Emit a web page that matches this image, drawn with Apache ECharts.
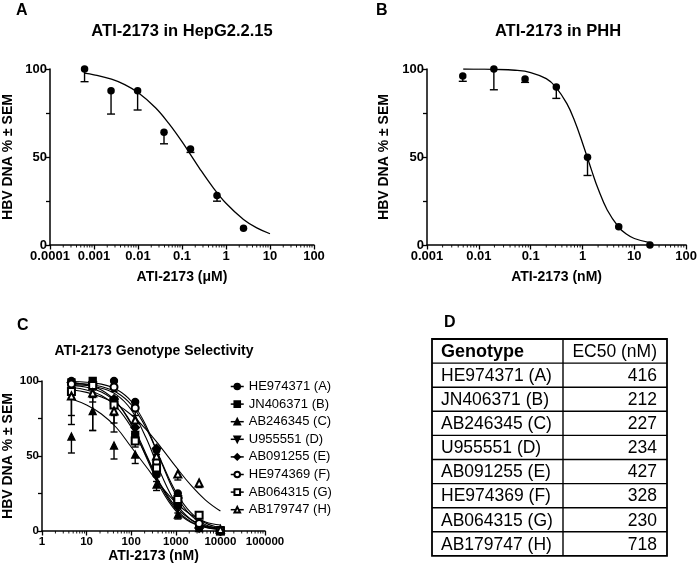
<!DOCTYPE html>
<html><head><meta charset="utf-8">
<script src="https://cdn.jsdelivr.net/npm/echarts@6/dist/echarts.min.js"></script>
<style>html,body{margin:0;padding:0;background:#fff}#c{width:700px;height:570px}</style>
</head><body><div id="c"></div>
<script>
const FONT = '"Liberation Sans", Arial, Helvetica, sans-serif';

// ---------- Panel A ----------
const aTitle = 'ATI-2173 in HepG2.2.15';
const aXName = 'ATI-2173 (\u03bcM)';
const aXTickLabels = ['0.0001', '0.001', '0.01', '0.1', '1', '10', '100'];
const aDose = [0.00061, 0.00244, 0.0098, 0.039, 0.156, 0.625, 2.5];
const aMean = [100, 87.7, 87.7, 64.1, 54.6, 28.1, 9.5];
const aLow = [92.8, 74.4, 76.7, 57.5, 52.6, 24.9, 9.5];
const aCurveX = [0.0006, 0.001, 0.0025, 0.005, 0.01, 0.025, 0.05, 0.1, 0.25, 0.5, 1, 2.5, 5, 10];
const aCurveY = [97.6, 96.7, 94.2, 91.1, 86.6, 78.0, 69.1, 58.7, 43.6, 32.9, 23.7, 14.5, 9.7, 6.4];

// ---------- Panel B ----------
const bTitle = 'ATI-2173 in PHH';
const bXName = 'ATI-2173 (nM)';
const bXTickLabels = ['0.001', '0.01', '0.1', '1', '10', '100'];
const bDose = [0.0049, 0.0195, 0.078, 0.3125, 1.25, 5, 20];
const bMean = [96, 100, 94.3, 89.8, 49.9, 10.4, 0];
const bLow = [93, 88.2, 92.4, 83.3, 39.5, 10.4, 0];
const bCurveX = [0.005, 0.01, 0.02, 0.05, 0.1, 0.2, 0.3, 0.5, 0.7, 1, 1.5, 2, 3, 5, 7, 10, 20];
const bCurveY = [100, 99.9, 99.8, 99.3, 98.0, 94.5, 90.0, 80.3, 70.7, 58.0, 42.4, 31.9, 19.9, 10.1, 6.2, 3.7, 1.3];

// ---------- Panel C ----------
const cTitle = 'ATI-2173 Genotype Selectivity';
const cXName = 'ATI-2173 (nM)';
const cXTickLabels = ['1', '10', '100', '1000', '10000', '100000'];
const cDose = [4.57, 13.7, 41.2, 123, 370, 1111, 3333, 10000];
const cCurveX = [4.6, 10, 21.5, 46.4, 100, 215, 464, 1000, 2154, 4642, 10000];
const cNames = ['HE974371 (A)', 'JN406371 (B)', 'AB246345 (C)', 'U955551 (D)', 'AB091255 (E)', 'HE974369 (F)', 'AB064315 (G)', 'AB179747 (H)'];
const cMeanA = [100, 99, 100, 86, 54, 25, 3, 0.5];
const cMeanB = [99, 100, 87, 63, 39, 18, 4, 0.5];
const cMeanC = [63, 80, 57, 51, 31, 11, 2, 0];
const cMeanD = [96, 97, 85, 64, 36, 15, 3, 0];
const cMeanE = [99, 98, 88, 69, 55, 22, 2, 0];
const cMeanF = [98, 98, 96, 82, 46, 20, 5, 0];
const cMeanG = [93, 97, 84, 60, 42, 21, 10.5, 0];
const cMeanH = [90, 92, 80, 74, 50, 38, 32, 1];
const cSemA = [0, 0, 0, 2, 3, 3, 1, 0];
const cSemB = [0, 0, 3, 3, 3, 3, 1, 0];
const cSemC = [11, 13, 9, 6, 4, 3, 1, 0];
const cSemD = [7, 8, 8, 4, 3, 3, 1, 0];
const cSemE = [0, 4, 4, 4, 4, 4, 1, 0];
const cSemF = [0, 2, 3, 5, 4, 3, 1, 0];
const cSemG = [16, 11, 12, 4, 3, 3, 2, 0];
const cSemH = [19, 25, 14, 8, 3, 4, 3, 0];
const cCurveA = [99.7, 99.2, 97.9, 94.5, 86.5, 70.2, 46.4, 24.2, 10.6, 4.2, 1.6];
const cCurveB = [99.0, 97.5, 94.0, 86.1, 71.1, 49.5, 28.1, 13.4, 5.8, 2.4, 1.0];
const cCurveC = [88, 84, 78, 69, 56, 43, 30, 19, 11, 6, 4];
const cCurveD = [97.1, 95.8, 92.7, 85.7, 72.0, 51.4, 29.9, 14.6, 6.4, 2.6, 1.1];
const cCurveE = [98.6, 97.9, 96.3, 92.5, 84.2, 68.7, 47.0, 26.2, 12.4, 5.4, 2.2];
const cCurveF = [97.6, 97.0, 95.2, 90.9, 80.8, 62.1, 38.1, 18.6, 7.8, 3.0, 1.1];
const cCurveG = [95.7, 94.0, 90.3, 82.8, 69.3, 50.3, 30.6, 16.1, 7.6, 3.4, 1.5];
const cCurveH = [94.2, 92.4, 89.3, 84.6, 77.5, 67.8, 55.8, 42.9, 30.7, 20.6, 13.3];

const yTickLabels = ['0', '', '50', '', '100'];
const yName = 'HBV DNA % \u00b1 SEM';

// ---------- Panel D (table) ----------
const tableHeader = ['Genotype', 'EC50 (nM)'];
const tableGenotypes = ['HE974371 (A)', 'JN406371 (B)', 'AB246345 (C)', 'U955551 (D)', 'AB091255 (E)', 'HE974369 (F)', 'AB064315 (G)', 'AB179747 (H)'];
const tableEC50 = ['416', '212', '227', '234', '427', '328', '230', '718'];

const panelLetters = ['A', 'B', 'C', 'D'];

// ---------- build ----------
const cMeans = [cMeanA, cMeanB, cMeanC, cMeanD, cMeanE, cMeanF, cMeanG, cMeanH];
const cSems = [cSemA, cSemB, cSemC, cSemD, cSemE, cSemF, cSemG, cSemH];
const cCurves = [cCurveA, cCurveB, cCurveC, cCurveD, cCurveE, cCurveF, cCurveG, cCurveH];
const cSymbols = ['circle', 'rect', 'triangle', 'path://M0,0L2,0L1,2Z', 'diamond', 'emptyCircle', 'emptyRect', 'emptyTriangle'];

const zip = (xs, ys) => xs.map((x, i) => [x, ys[i]]);
const labelFmt = labels => v => {
  const hit = labels.find(l => Math.abs(Math.log10(+l) - Math.log10(v)) < 1e-6);
  return hit === undefined ? '' : hit;
};
// log-axis minor tick positions (2..9 x 10^k) between the labelled decades
const minorTicks = labels => {
  const out = [];
  for (let i = 0; i < labels.length - 1; i++) {
    const base = +labels[i];
    for (let m = 2; m <= 9; m++) out.push([base * m, 0]);
  }
  return out;
};

function errRender(capW) {
  return function (params, api) {
    const x = api.value(0), y = api.value(1), lo = api.value(2);
    if (!(y - lo > 0.01)) return null;
    const p1 = api.coord([x, y]);
    const p2 = api.coord([x, lo]);
    return {
      type: 'group', children: [
        { type: 'line', shape: { x1: p1[0], y1: p1[1], x2: p2[0], y2: p2[1] }, style: { stroke: '#000', lineWidth: 1.4 } },
        { type: 'line', shape: { x1: p2[0] - capW, y1: p2[1], x2: p2[0] + capW, y2: p2[1] }, style: { stroke: '#000', lineWidth: 1.4 } }
      ]
    };
  };
}
function minorRender(params, api) {
  const p = api.coord([api.value(0), 0]);
  return { type: 'line', shape: { x1: p[0], y1: p[1], x2: p[0], y2: p[1] + 2.5 }, style: { stroke: '#000', lineWidth: 0.9 } };
}

function xAxisDef(gi, min, max, labels, name, fs, nameGap, labelFs, margin) {
  return {
    type: 'log', logBase: 10, gridIndex: gi, min: min, max: max, interval: 1,
    splitNumber: labels.length - 1,
    axisLine: { lineStyle: { color: '#000', width: 1.5 } },
    axisTick: { length: 4.5, lineStyle: { color: '#000', width: 1.3 } },
    splitLine: { show: false },
    axisLabel: { color: '#000', fontFamily: FONT, fontWeight: 'bold', fontSize: labelFs, margin: margin, formatter: labelFmt(labels) },
    name: name, nameLocation: 'middle', nameGap: nameGap,
    nameTextStyle: { color: '#000', fontFamily: FONT, fontWeight: 'bold', fontSize: fs }
  };
}
function yAxisDef(gi, nameGap, labelFs) {
  return {
    type: 'value', gridIndex: gi, min: 0, max: 100, interval: 25,
    axisLine: { show: true, lineStyle: { color: '#000', width: 1.5 } },
    axisTick: { show: true, length: 4, lineStyle: { color: '#000', width: 1.3 } },
    splitLine: { show: false },
    axisLabel: { color: '#000', fontFamily: FONT, fontWeight: 'bold', fontSize: labelFs, margin: 3,
      formatter: v => yTickLabels[Math.round(v / 25)] },
    name: yName, nameLocation: 'middle', nameGap: nameGap,
    nameTextStyle: { color: '#000', fontFamily: FONT, fontWeight: 'bold', fontSize: 14 }
  };
}

const series = [];
function addMinor(ai, labels) {
  series.push({ type: 'custom', xAxisIndex: ai, yAxisIndex: ai, renderItem: minorRender, silent: true,
    data: minorTicks(labels), encode: { x: 0, y: 1 }, clip: false, z: 1 });
}
function addPanel(ai, curveX, curveY, dose, mean, low, symSize, cap) {
  series.push({ type: 'line', xAxisIndex: ai, yAxisIndex: ai, data: zip(curveX, curveY), smooth: 0.4,
    showSymbol: false, symbol: 'none', lineStyle: { color: '#000', width: 1.3 }, silent: true, z: 2 });
  series.push({ type: 'custom', xAxisIndex: ai, yAxisIndex: ai, renderItem: errRender(cap),
    data: dose.map((d, i) => [d, mean[i], low[i]]), encode: { x: 0, y: 1 }, clip: false, z: 3 });
  series.push({ type: 'scatter', xAxisIndex: ai, yAxisIndex: ai, data: zip(dose, mean), symbol: 'circle',
    symbolSize: symSize, itemStyle: { color: '#000', opacity: 1 }, clip: false, z: 4 });
}
addMinor(0, aXTickLabels);
addMinor(1, bXTickLabels);
addMinor(2, cXTickLabels);
addPanel(0, aCurveX, aCurveY, aDose, aMean, aLow, 7.5, 4);
addPanel(1, bCurveX, bCurveY, bDose, bMean, bLow, 7.5, 4);

cNames.forEach((nm, k) => {
  series.push({ type: 'line', name: nm + ' fit', xAxisIndex: 2, yAxisIndex: 2, data: zip(cCurveX, cCurves[k]), smooth: 0.4,
    showSymbol: false, symbol: 'none', lineStyle: { color: '#000', width: 1.1 }, silent: true, z: 2 });
  series.push({ type: 'custom', xAxisIndex: 2, yAxisIndex: 2, renderItem: errRender(3.5),
    data: cDose.map((d, i) => [d, cMeans[k][i], cMeans[k][i] - cSems[k][i]]), encode: { x: 0, y: 1 }, clip: false, z: 3 });
});
cNames.forEach((nm, k) => {
  series.push({ type: 'line', name: nm, xAxisIndex: 2, yAxisIndex: 2, data: zip(cDose, cMeans[k]),
    symbol: cSymbols[k], symbolSize: k === 4 ? 8.5 : 7, showAllSymbol: true,
    lineStyle: { color: '#000', opacity: 0, width: 0 }, itemStyle: { color: '#000', borderColor: '#000', borderWidth: 1.3, opacity: 1 },
    clip: false, z: 4 + k * 0.01 });
});

const titleStyle = fs => ({ color: '#000', fontFamily: FONT, fontWeight: 'bold', fontSize: fs });

// table graphic
const tbl = { left: 432, right: 667, top: 339, split: 563, rowH: 24.1 };
const g = [];
const nRows = tableGenotypes.length + 1;
g.push({ type: 'rect', shape: { x: tbl.left, y: tbl.top, width: tbl.right - tbl.left, height: tbl.rowH * nRows },
  style: { fill: 'none', stroke: '#000', lineWidth: 1.8 } });
for (let r = 1; r < nRows; r++) {
  const yy = tbl.top + r * tbl.rowH;
  g.push({ type: 'line', shape: { x1: tbl.left, y1: yy, x2: tbl.right, y2: yy }, style: { stroke: '#000', lineWidth: 1.4 } });
}
g.push({ type: 'line', shape: { x1: tbl.split, y1: tbl.top, x2: tbl.split, y2: tbl.top + tbl.rowH * nRows }, style: { stroke: '#000', lineWidth: 1.4 } });
g.push({ type: 'text', x: tbl.left + 9, y: tbl.top + tbl.rowH / 2 + 1,
  style: { text: tableHeader[0], font: 'bold 18px ' + FONT, fill: '#000', textVerticalAlign: 'middle', verticalAlign: 'middle' } });
g.push({ type: 'text', x: tbl.right - 10, y: tbl.top + tbl.rowH / 2 + 1,
  style: { text: tableHeader[1], font: '17.5px ' + FONT, fill: '#000', align: 'right', textAlign: 'right', verticalAlign: 'middle', textVerticalAlign: 'middle' } });
tableGenotypes.forEach((gt, i) => {
  const cy = tbl.top + (i + 1.5) * tbl.rowH + 1;
  g.push({ type: 'text', x: tbl.left + 9, y: cy,
    style: { text: gt, font: '17.5px ' + FONT, fill: '#000', verticalAlign: 'middle', textVerticalAlign: 'middle' } });
  g.push({ type: 'text', x: tbl.right - 10, y: cy,
    style: { text: tableEC50[i], font: '17.5px ' + FONT, fill: '#000', align: 'right', textAlign: 'right', verticalAlign: 'middle', textVerticalAlign: 'middle' } });
});

const option = {
  backgroundColor: '#fff',
  animation: false,
  textStyle: { fontFamily: FONT },
  title: [
    { text: panelLetters[0], left: 16, top: 3, padding: 0, textStyle: titleStyle(16) },
    { text: panelLetters[1], left: 376, top: 3, padding: 0, textStyle: titleStyle(16) },
    { text: panelLetters[2], left: 17, top: 318, padding: 0, textStyle: titleStyle(16) },
    { text: panelLetters[3], left: 444, top: 315, padding: 0, textStyle: titleStyle(16) },
    { text: aTitle, left: 182, top: 23, padding: 0, textAlign: 'center', textStyle: titleStyle(16.5) },
    { text: bTitle, left: 558, top: 23, padding: 0, textAlign: 'center', textStyle: titleStyle(16.5) },
    { text: cTitle, left: 154, top: 344, padding: 0, textAlign: 'center', textStyle: titleStyle(14) }
  ],
  grid: [
    { left: 50, top: 69, width: 264, height: 176 },
    { left: 427, top: 69, width: 263, height: 176 },
    { left: 41, top: 381, width: 224, height: 150 }
  ],
  xAxis: [
    xAxisDef(0, 0.0001, 100, aXTickLabels, aXName, 14, 25, 13, 5),
    xAxisDef(1, 0.001, 100, bXTickLabels, bXName, 14, 25, 13, 5),
    xAxisDef(2, 1, 100000, cXTickLabels, cXName, 14, 18, 11.5, 5)
  ],
  yAxis: [yAxisDef(0, 35, 13), yAxisDef(1, 36, 13), yAxisDef(2, 27, 11.5)],
  legend: {
    data: cNames, orient: 'vertical', left: 230, top: 380, padding: 0, itemGap: 4.6,
    itemWidth: 13, itemHeight: 7,
    lineStyle: { color: '#000', width: 1.5, opacity: 1 },
    itemStyle: { color: '#000', borderColor: '#000', opacity: 1 },
    textStyle: { color: '#000', fontFamily: FONT, fontSize: 13 },
    selectedMode: false
  },
  graphic: g,
  series: series
};

const chart = echarts.init(document.getElementById('c'), null, { renderer: 'canvas' });
chart.setOption(option);
</script>
</body></html>
